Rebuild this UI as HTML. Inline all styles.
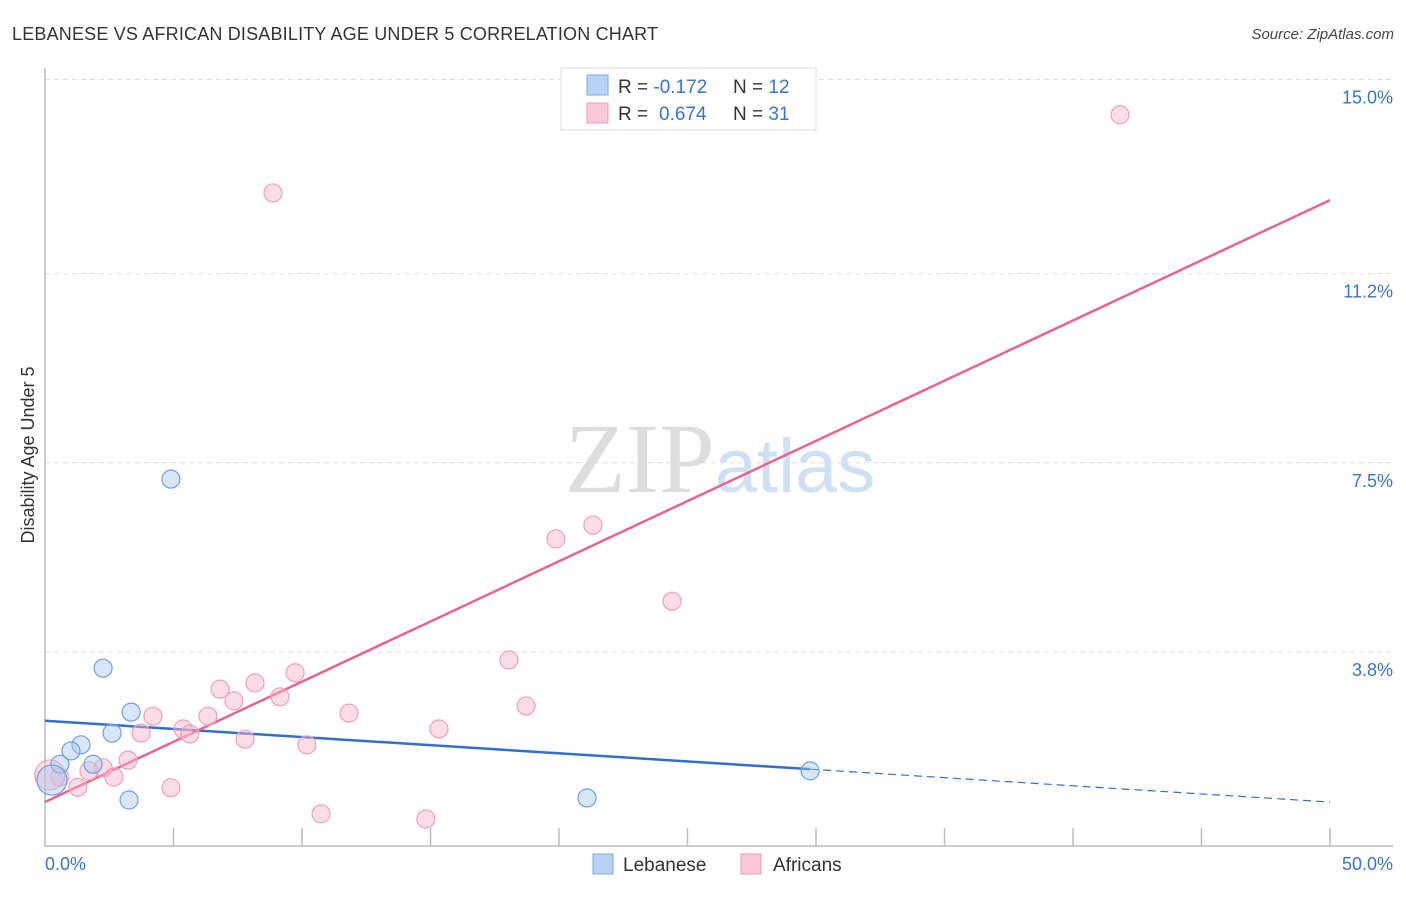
<!DOCTYPE html>
<html><head><meta charset="utf-8"><style>
body{margin:0;background:#fff;font-family:"Liberation Sans",sans-serif}
</style></head><body>
<svg id="chart" width="1406" height="892" xmlns="http://www.w3.org/2000/svg" font-family="Liberation Sans, sans-serif">
<text x="12" y="40" font-size="18" fill="#333" textLength="646">LEBANESE VS AFRICAN DISABILITY AGE UNDER 5 CORRELATION CHART</text>
<text x="1394" y="39" font-size="15" fill="#444" font-style="italic" text-anchor="end">Source: ZipAtlas.com</text>
<text x="720" y="492" font-size="100" text-anchor="middle"><tspan fill="#ddd" font-family="Liberation Serif, serif">ZIP</tspan><tspan fill="#cfe0f3" font-size="76">atlas</tspan></text>
<text transform="translate(34,455) rotate(-90)" font-size="18" fill="#333" text-anchor="middle">Disability Age Under 5</text>
<g id="grid"></g><g id="axes"></g><g id="lines"></g><g id="pts"></g>
<g>
<rect x="561" y="68" width="255" height="62" fill="#fff" stroke="#ddd"/>
<rect x="587" y="75" width="21" height="20" fill="#b8d3f5" stroke="#7aa8e6"/>
<rect x="587" y="103" width="21" height="20" fill="#fbc8d7" stroke="#ee9ab4"/>
<text x="618" y="93" font-size="19" fill="#333">R = <tspan fill="#3a72d0">-0.172</tspan></text>
<text x="733" y="93" font-size="19" fill="#333">N = <tspan fill="#3a72d0">12</tspan></text>
<text x="618" y="120" font-size="19" fill="#333">R = <tspan fill="#3a72d0" x="659">0.674</tspan></text>
<text x="733" y="120" font-size="19" fill="#333">N = <tspan fill="#3a72d0">31</tspan></text>
</g>
<g>
<rect x="593" y="854" width="20" height="20" fill="#b8d3f5" stroke="#7aa8e6"/>
<text x="623" y="871" font-size="19" fill="#333">Lebanese</text>
<rect x="741" y="854" width="20" height="20" fill="#fbc8d7" stroke="#ee9ab4"/>
<text x="773" y="871" font-size="19" fill="#333">Africans</text>
</g>
</svg>
<script>
const yTicks=[15.0,11.2,7.5,3.8];
const yTickLabels=["15.0%","11.2%","7.5%","3.8%"];
const blueX=[4.90,2.26,3.35,2.61,1.40,1.01,1.87,0.58,0.27,3.27,21.09,29.77];
const blueY=[7.18,3.48,2.62,2.21,1.98,1.86,1.60,1.60,1.29,0.90,0.94,1.47];
const blueR=[9,9,9,9,9,9,9,9,15,9,9,9];
const pinkX=[8.87,41.83,21.32,19.88,24.40,18.05,9.73,8.17,6.81,7.35,9.14,18.72,11.83,4.20,6.34,5.37,5.64,15.33,3.74,7.78,10.19,3.23,2.26,1.71,2.68,0.58,1.28,4.90,10.74,14.82,0.19];
const pinkY=[12.78,14.31,6.28,6.01,4.79,3.64,3.39,3.19,3.07,2.84,2.92,2.74,2.60,2.54,2.54,2.29,2.19,2.29,2.21,2.09,1.98,1.68,1.53,1.47,1.35,1.35,1.15,1.14,0.63,0.53,1.39];
const blueTrend=[2.45,0.86];
const pinkTrend=[0.86,12.64];
const blueSolidEnd=29.77;
const X=v=>45+v*25.7, Y=v=>846-v*51.1;
const NS="http://www.w3.org/2000/svg";
function mk(tag,attrs,parent){const e=document.createElementNS(NS,tag);for(const k in attrs)e.setAttribute(k,attrs[k]);document.getElementById(parent).appendChild(e);return e;}
yTicks.forEach((t,i)=>{
 const g=mk('line',{x1:45,x2:1393,y1:Y(t),y2:Y(t),stroke:'#ddd','stroke-dasharray':'5,4'},'grid');
 
 
 const l=mk('text',{x:1393,y:Y(t)+24,'font-size':18,fill:'#3a72d0','text-anchor':'end'},'grid');
 l.textContent=yTickLabels[i];
 
 
});
const ax=mk('path',{d:'M45,68 V846 H1393',fill:'none',stroke:'#bbb','stroke-width':1.5},'axes');


for(let i=1;i<=10;i++){const t=mk('line',{x1:X(i*5),x2:X(i*5),y1:828,y2:846,stroke:'#bbb','stroke-width':1.5},'axes');
 
 }
const xl0=mk('text',{x:45,y:870,'font-size':18,fill:'#3a72d0'},'axes');xl0.textContent='0.0%';


const xl1=mk('text',{x:1393,y:870,'font-size':18,fill:'#3a72d0','text-anchor':'end'},'axes');xl1.textContent='50.0%';


const bAt=v=>blueTrend[0]+(blueTrend[1]-blueTrend[0])*v/50;
const bl=mk('line',{x1:X(0),y1:Y(blueTrend[0]),x2:X(blueSolidEnd),y2:Y(bAt(blueSolidEnd)),stroke:'#2f6fd3','stroke-width':2.5},'lines');


const bd=mk('line',{x1:X(blueSolidEnd),y1:Y(bAt(blueSolidEnd)),x2:X(50),y2:Y(blueTrend[1]),stroke:'#2f6fd3','stroke-width':1.2,'stroke-dasharray':'8,5'},'lines');


const pl=mk('line',{x1:X(0),y1:Y(pinkTrend[0]),x2:X(50),y2:Y(pinkTrend[1]),stroke:'#e8648f','stroke-width':2.5},'lines');


pinkX.forEach((x,i)=>{const c=mk('circle',{cx:X(x),cy:Y(pinkY[i]),r:i==30?15:9,fill:'rgba(248,180,200,0.45)',stroke:'#eea0b8','stroke-width':1.2},'pts');
 
 });
blueX.forEach((x,i)=>{const c=mk('circle',{cx:X(x),cy:Y(blueY[i]),r:blueR[i],fill:'rgba(170,200,240,0.45)',stroke:'#6f9fe0','stroke-width':1.2},'pts');
 
 });
</script>
</body></html>
